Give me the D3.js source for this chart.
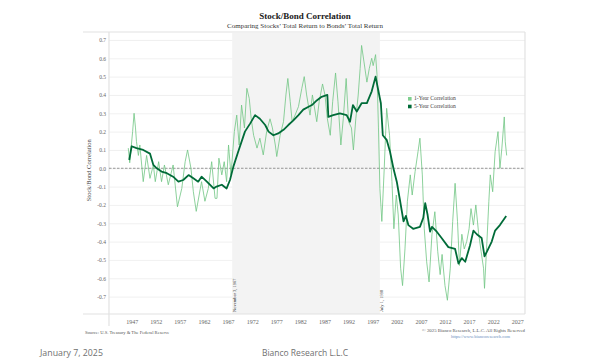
<!DOCTYPE html>
<html>
<head>
<meta charset="utf-8">
<script src="https://cdn.jsdelivr.net/npm/d3@7"></script>
<style>
  body { margin: 0; background: #fff; }
  svg text { font-family: "Liberation Serif", "DejaVu Serif", serif; }
  .footer { font-family: "Open Sans", "Noto Sans", sans-serif !important; fill: #707070; }
</style>
</head>
<body>
<svg class="chart" width="600" height="363"></svg>
<script>
// 5-year rolling correlation (decimal years)
const years5 = [1946.5, 1947, 1948, 1949.4, 1950.8, 1951.5, 1952.2, 1953.2, 1954.3, 1955.6, 1956.7, 1957.7,
  1958.8, 1959.8, 1960.8, 1961.5, 1962.6, 1964, 1964.6, 1965.7, 1966.7, 1967.4, 1968.1, 1969.1, 1970.5,
  1971.6, 1972.6, 1973.6, 1974.7, 1975.4, 1976.4, 1977.4, 1978.5, 1979.5, 1980.5, 1981.6, 1982.6, 1983.7,
  1984.4, 1985.4, 1986.4, 1987.6, 1987.8, 1988.8, 1990.2, 1991.6, 1992.3, 1992.9, 1993.7, 1994.7, 1995.8,
  1996.8, 1997.6, 1998.2, 1998.7, 1999.1, 1999.9, 2000.6, 2001.3, 2002, 2002.7, 2003.4, 2003.9, 2004.4,
  2005.4, 2006.8, 2007.5, 2007.9, 2008.4, 2008.9, 2009.3, 2010.3, 2011.3, 2012.7, 2014.1, 2014.8, 2015.5,
  2016.2, 2017.2, 2017.9, 2018.6, 2019.6, 2020.2, 2020.7, 2021.7, 2022.4, 2023.4, 2024.7];
const corr5 = [0.045, 0.12, 0.11, 0.10, 0.08, 0.018, 0.0, -0.018, -0.027, -0.046, -0.073, -0.064,
  -0.037, -0.055, -0.073, -0.046, -0.073, -0.11, -0.10, -0.09, -0.11, -0.064, 0.009, 0.09, 0.2,
  0.245, 0.29, 0.27, 0.236, 0.2, 0.18, 0.19, 0.21, 0.236, 0.26, 0.29, 0.32, 0.336,
  0.345, 0.37, 0.39, 0.40, 0.28, 0.29, 0.30, 0.29, 0.254, 0.345, 0.31, 0.355, 0.355,
  0.42, 0.50, 0.42, 0.355, 0.18, 0.155, 0.09, 0.0, -0.073, -0.18, -0.29, -0.26, -0.31,
  -0.33, -0.32, -0.27, -0.19, -0.255, -0.346, -0.32, -0.346, -0.38, -0.43, -0.44, -0.52, -0.49,
  -0.51, -0.42, -0.34, -0.36, -0.38, -0.48, -0.455, -0.40, -0.34, -0.31, -0.26];

// 1-year rolling correlation (decimal years)
const years1 = [1946.3, 1946.6, 1947.2, 1947.5, 1947.8, 1948, 1948.4, 1948.7, 1949.4, 1950.1, 1950.8, 1951.5,
  1951.9, 1952.6, 1953.2, 1953.8, 1954.6, 1955.6, 1956.5, 1957.4, 1958.1, 1958.6, 1959.3, 1959.8, 1960.4,
  1961, 1961.5, 1962.2, 1962.9, 1963.6, 1964.3, 1964.7, 1965.1, 1965.7, 1966.2, 1966.7, 1967.1, 1967.6,
  1968.3, 1968.8, 1969.3, 1969.8, 1970.4, 1970.9, 1971.4, 1971.8, 1972.3, 1973, 1973.6, 1974.3, 1975,
  1975.7, 1976.2, 1976.8, 1977.1, 1977.8, 1978.5, 1979, 1979.4, 1979.9, 1980.3, 1980.9, 1981.6, 1982.3,
  1982.8, 1983.3, 1984, 1984.5, 1985.4, 1985.9, 1986.6, 1987.1, 1987.6, 1988.2, 1988.7, 1989.3, 1989.8,
  1990.4, 1990.9, 1991.5, 1992, 1992.6, 1993, 1993.5, 1994, 1994.4, 1994.7, 1995.2, 1995.8, 1996.3,
  1996.8, 1997.1, 1997.6, 1997.9, 1998.2, 1998.5, 1998.9, 1999.4, 1999.9, 2000.5, 2001, 2001.4, 2001.9,
  2002.3, 2002.8, 2003.2, 2003.7, 2004.2, 2004.8, 2005.2, 2005.8, 2006.4, 2006.8, 2007.3, 2007.7, 2008.2,
  2008.7, 2009.3, 2009.9, 2010.5, 2011, 2011.4, 2012, 2012.5, 2013.1, 2013.6, 2014.1, 2014.6, 2015,
  2015.5, 2016, 2016.5, 2017, 2017.4, 2017.9, 2018.4, 2019, 2019.5, 2020, 2020.2, 2020.7, 2021.1, 2021.4,
  2021.9, 2022.4, 2023, 2023.4, 2023.8, 2024.3, 2024.5, 2024.8];
const corr1 = [0.11, 0.03, 0.2, 0.30, 0.22, 0.145, 0.07, 0.127, -0.073, 0.07, -0.055, 0.018,
  -0.073, 0.036, -0.073, 0.018, -0.09, 0.018, -0.21, -0.11, 0.036, 0.1, 0.0, -0.128, -0.235,
  -0.146, -0.073, -0.18, -0.11, 0.036, -0.164, -0.164, 0.055, -0.036, 0.036, -0.073, 0.127, -0.036,
  0.2, 0.29, 0.127, 0.345, 0.22, 0.436, 0.38, 0.27, 0.18, 0.11, 0.164, 0.073, 0.2,
  0.27, 0.22, 0.127, 0.064, 0.18, 0.254, 0.40, 0.49, 0.363, 0.254, 0.29, 0.336, 0.436,
  0.50, 0.40, 0.29, 0.40, 0.254, 0.363, 0.46, 0.40, 0.27, 0.18, 0.363, 0.52, 0.363,
  0.127, 0.27, 0.49, 0.254, 0.22, 0.1, 0.27, 0.40, 0.545, 0.67, 0.58, 0.47, 0.545,
  0.60, 0.56, 0.62, 0.51, 0.22, -0.11, -0.29, 0.0, 0.327, 0.18, -0.073, -0.33, -0.146,
  -0.255, -0.545, -0.64, -0.44, -0.18, -0.036, -0.146, -0.018, 0.09, 0.164, -0.036, -0.33, -0.51,
  -0.62, -0.36, -0.237, -0.455, -0.58, -0.47, -0.64, -0.72, -0.545, -0.29, -0.082, -0.29, -0.53,
  -0.36, -0.44, -0.40, -0.33, -0.22, -0.31, -0.20, -0.36, -0.455, -0.545, -0.655, -0.40, -0.18, -0.036,
  -0.128, 0.09, 0.2, 0.0, 0.11, 0.28, 0.145, 0.07];

const xTickYears = [1947, 1952, 1957, 1962, 1967, 1972, 1977, 1982, 1987, 1992, 1997, 2002, 2007, 2012, 2017, 2022, 2027];
const yTicks = [-0.7, -0.6, -0.5, -0.4, -0.3, -0.2, -0.1, 0.0, 0.1, 0.2, 0.3, 0.4, 0.5, 0.6, 0.7];
const shadeRange = [1967.85, 1998.5];
const shadeLabels = ['November 3, 1967', 'July 1, 1998'];
const seriesNames = ['1-Year Correlation', '5-Year Correlation'];

const LIGHT = '#72c684', DARK = '#006b38';
const LEFT = 109, RIGHT = 525, TOP = 33, BOTTOM = 314, FRAMELEFT = 83;

const svg = d3.select('.chart');

// scales
const x = d3.scaleLinear().domain([1942.3, 2028.6]).range([LEFT, RIGHT]);
const y = d3.scaleLinear().domain([-0.795, 0.738]).range([BOTTOM, TOP]);

// title
svg.append('text')
  .attr('x', 305).attr('y', 19)
  .attr('text-anchor', 'middle')
  .style('font-size', '9px').style('font-weight', 'bold').style('fill', '#1a1a1a')
  .text('Stock/Bond Correlation');
svg.append('text')
  .attr('x', 305).attr('y', 28)
  .attr('text-anchor', 'middle')
  .style('font-size', '7px').style('fill', '#333')
  .text('Comparing Stocks\u2019 Total Return to Bonds\u2019 Total Return');

// grid + y labels
const yAxis = svg.append('g')
  .attr('transform', `translate(${LEFT},0)`)
  .call(d3.axisLeft(y).tickValues(yTicks).tickSize(-(RIGHT - LEFT)).tickPadding(3)
    .tickFormat(d => d.toFixed(1)));
yAxis.select('.domain').remove();
yAxis.selectAll('.tick line').attr('stroke', '#ececec').attr('stroke-width', 0.8);
yAxis.selectAll('.tick text')
  .style('font-size', '5.5px').style('fill', '#666')
  .style('font-family', '"Liberation Serif", serif');

// shaded period
svg.append('rect')
  .attr('x', x(shadeRange[0])).attr('y', TOP)
  .attr('width', x(shadeRange[1]) - x(shadeRange[0]))
  .attr('height', BOTTOM - TOP)
  .attr('fill', '#f3f3f3');

// frame lines
const frame = [
  [FRAMELEFT, TOP - 1, RIGHT, TOP - 1],
  [FRAMELEFT, BOTTOM, RIGHT, BOTTOM],
  [LEFT, TOP - 1, LEFT, 326],
  [RIGHT, TOP - 1, RIGHT, BOTTOM]
];
svg.selectAll('line.frame')
  .data(frame)
  .enter()
  .append('line')
  .attr('class', 'frame')
  .attr('x1', d => d[0]).attr('y1', d => d[1])
  .attr('x2', d => d[2]).attr('y2', d => d[3])
  .attr('stroke', '#e2e2e2').attr('stroke-width', 1.2);

// zero line
svg.append('line')
  .attr('x1', LEFT).attr('x2', RIGHT)
  .attr('y1', y(0)).attr('y2', y(0))
  .attr('stroke', '#555').attr('stroke-width', 0.6)
  .attr('stroke-dasharray', '2.5,1.5');

// x axis labels
const xAxis = svg.append('g')
  .attr('transform', `translate(0,${BOTTOM + 3})`)
  .call(d3.axisBottom(x).tickValues(xTickYears).tickSize(0).tickFormat(d3.format('d')));
xAxis.select('.domain').remove();
xAxis.selectAll('.tick text')
  .style('font-size', '6px').style('fill', '#666')
  .style('font-family', '"Liberation Serif", serif');

// shade date labels
svg.selectAll('text.shade-label')
  .data(shadeRange)
  .enter()
  .append('text')
  .attr('class', 'shade-label')
  .attr('transform', d => `translate(${x(d) + 3.5},${BOTTOM - 2}) rotate(-90)`)
  .style('font-size', '4.5px').style('fill', '#333')
  .text((d, i) => shadeLabels[i]);

// y axis title
svg.append('text')
  .attr('transform', `translate(91,${y(0) + 2}) rotate(-90)`)
  .attr('text-anchor', 'middle')
  .style('font-size', '6.5px').style('fill', '#444')
  .text('Stock/Bond Correlation');

// series
const line = d3.line().x(d => x(d[0])).y(d => y(d[1]));
svg.append('path')
  .datum(years1.map((t, i) => [t, corr1[i]]))
  .attr('d', line)
  .attr('fill', 'none')
  .attr('stroke', LIGHT).attr('stroke-width', 0.9).attr('stroke-opacity', 0.9);
svg.append('path')
  .datum(years5.map((t, i) => [t, corr5[i]]))
  .attr('d', line)
  .attr('fill', 'none')
  .attr('stroke', DARK).attr('stroke-width', 1.8)
  .attr('stroke-linejoin', 'round');

// legend
const legend = svg.selectAll('g.legend')
  .data(seriesNames)
  .enter()
  .append('g')
  .attr('class', 'legend')
  .attr('transform', (d, i) => `translate(408,${97 + i * 7.7})`);
legend.append('rect')
  .attr('width', 3.6).attr('height', 3.6)
  .attr('fill', (d, i) => i === 0 ? '#7fcf8f' : DARK);
legend.append('text')
  .attr('x', 6).attr('y', 3.4)
  .style('font-size', '5.6px').style('fill', '#444')
  .text(d => d);

// footnotes
svg.append('text')
  .attr('x', 85).attr('y', 334)
  .style('font-size', '4.6px').style('fill', '#555')
  .text('Source: U.S. Treasury & The Federal Reserve');
svg.append('text')
  .attr('x', 525).attr('y', 332)
  .attr('text-anchor', 'end')
  .style('font-size', '4.8px').style('fill', '#555')
  .text('\u00a9 2025 Bianco Research, L.L.C. All Rights Reserved');
svg.append('text')
  .attr('x', 510).attr('y', 338)
  .attr('text-anchor', 'end')
  .style('font-size', '4.5px').style('fill', '#6b8fc0')
  .text('https://www.biancoresearch.com');

svg.append('text')
  .attr('class', 'footer')
  .attr('x', 40).attr('y', 356)
  .style('font-size', '8.8px')
  .text('January 7, 2025');
svg.append('text')
  .attr('class', 'footer')
  .attr('x', 305).attr('y', 356)
  .attr('text-anchor', 'middle')
  .style('font-size', '8.5px')
  .text('Bianco Research L.L.C');
</script>
</body>
</html>
